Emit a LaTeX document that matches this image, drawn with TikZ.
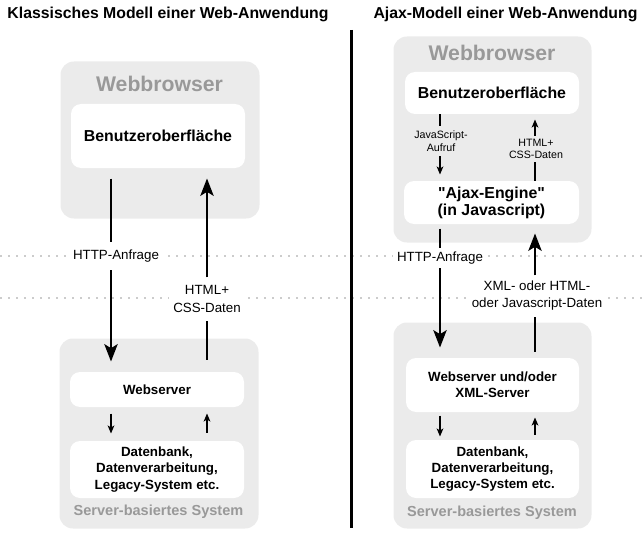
\documentclass[tikz,border=0pt]{standalone}
\usepackage{fontspec}
\setmainfont{Liberation Sans}[Ligatures=TeXOff]
\usetikzlibrary{arrows.meta}

\definecolor{panelgrey}{HTML}{EBEBEB}
\definecolor{captiongrey}{HTML}{999999}
\definecolor{dotgrey}{HTML}{CCCCCC}

\tikzset{every picture/.style={line width=0.75pt}}
\tikzset{
  wh/.style 2 args={minimum width=#1*0.75pt, minimum height=#2*0.75pt},
  panel/.style={fill=panelgrey, rounded corners=10pt, inner sep=0pt, anchor=north west},
  box/.style={fill=white, rounded corners=7.5pt, inner sep=0pt, align=center, font=\bfseries\fontsize{10}{12.3}\selectfont},
  bigbox/.style={box, font=\bfseries\fontsize{11.9}{12.75}\selectfont},
  browsercap/.style={text=captiongrey, inner sep=0.75pt, font=\bfseries\fontsize{15.9}{18}\selectfont},
  servercap/.style={text=captiongrey, inner sep=0.75pt, font=\bfseries\fontsize{10.9}{12}\selectfont},
  headline/.style={anchor=west, inner sep=0.75pt, font=\bfseries\fontsize{11.85}{14}\selectfont},
  flowlabel/.style={fill=white, align=center, inner xsep=3pt, font=\fontsize{10}{12.8}\selectfont},
  smalllabel/.style={align=center, inner xsep=1pt, font=\fontsize{8}{9.5}\selectfont},
  bigline/.style={line width=1.5pt},
  bigarrow/.style={line width=1.5pt, -{Stealth[length=13pt,width=10pt,inset=3pt]}},
  thinline/.style={line width=0.9pt},
  smallarrow/.style={line width=0.9pt, -{Stealth[length=6pt,width=5pt,inset=1.5pt]}},
  dots/.style={dotgrey, line width=1.5pt, dash pattern=on 1.5pt off 4.5pt},
}

\begin{document}
\begin{tikzpicture}[x=0.75pt,y=0.75pt,yscale=-1,xscale=1]
\useasboundingbox (0,0) rectangle (643,542);

%Dotted Lines
\draw [dots] (0,255.5) -- (643,255.5) ;
\draw [dots] (0,298) -- (643,298) ;

% Text Node
\draw (6,14) node (titleL) [headline] {Klassisches Modell einer Web-Anwendung};
% Text Node
\draw (372,14) node (titleR) [headline] {Ajax-Modell einer Web-Anwendung};

%Columns of the connectors
\coordinate (colLa) at (111,0);
\coordinate (colLb) at (207,0);
\coordinate (colRa) at (440,0);
\coordinate (colRb) at (535,0);

%Shape: Rounded Rect [id:browserL]
\draw (60,61) node (browserL) [panel, wh={199}{157}] {};
% Text Node
\draw (159.5,84) node (browserLcap) [browsercap] {Webbrowser};
%Shape: Rounded Rect [id:guiL]
\draw (158,136) node (guiL) [bigbox, wh={174}{64}] {Benutzeroberfläche};

%Shape: Rounded Rect [id:serverL]
\draw (59,338) node (serverL) [panel, wh={199}{190}] {};
%Shape: Rounded Rect [id:webL]
\draw (157,389.5) node (webL) [box, wh={174}{35}] {Webserver};
%Shape: Rounded Rect [id:dbL]
\draw (157,469.5) node (dbL) [box, wh={174}{57}] {Datenbank,\\Datenverarbeitung,\\Legacy-System etc.};
% Text Node
\draw (158.5,512) node (serverLcap) [servercap] {Server-basiertes System};

%Shape: Rounded Rect [id:browserR]
\draw (393,36) node (browserR) [panel, wh={198}{206}] {};
% Text Node
\draw (492,53) node (browserRcap) [browsercap] {Webbrowser};
%Shape: Rounded Rect [id:guiR]
\draw (492,93) node (guiR) [bigbox, wh={174}{42}] {Benutzeroberfläche};
%Shape: Rounded Rect [id:engineR]
\draw (491.5,202.5) node (engineR) [bigbox, wh={175}{43}] {"Ajax-Engine"\\(in Javascript)};

%Shape: Rounded Rect [id:serverR]
\draw (393,322) node (serverR) [panel, wh={198}{206}] {};
%Shape: Rounded Rect [id:webR]
\draw (492.5,385) node (webR) [box, wh={173}{54}] {Webserver und/oder\\XML-Server};
%Shape: Rounded Rect [id:dbR]
\draw (492.5,469) node (dbR) [box, wh={173}{58}] {Datenbank,\\Datenverarbeitung,\\Legacy-System etc.};
% Text Node
\draw (492,513) node (serverRcap) [servercap] {Server-basiertes System};

% Text Node
\draw (116,256) node (httpL) [flowlabel, inner ysep=5.5pt] {HTTP-Anfrage};
% Text Node
\draw (207,299) node (htmlL) [flowlabel, inner ysep=6pt] {HTML+\\CSS-Daten};
% Text Node
\draw (440,258) node (httpR) [flowlabel, inner ysep=2.8pt] {HTTP-Anfrage};
% Text Node
\draw (537,296) node (xmlR) [flowlabel, inner ysep=4pt] {XML- oder HTML-\\oder Javascript-Daten};
% Text Node
\draw (441,141) node (callR) [smalllabel, inner ysep=3.5pt] {JavaScript-\\Aufruf};
% Text Node
\draw (536,149) node (dataR) [smalllabel, inner ysep=2pt] {HTML+\\CSS-Daten};

%Straight Lines [id:requestL]
\draw [bigline, shorten <=7.5pt] (guiL.south -| colLa) -- (httpL.north -| colLa) ;
\draw [bigarrow, shorten >=7.5pt] (httpL.south -| colLa) -- (webL.north -| colLa) ;
%Straight Lines [id:responseL]
\draw [bigline, shorten <=9pt] (webL.north -| colLb) -- (htmlL.south -| colLb) ;
\draw [bigarrow, shorten >=7.5pt] (htmlL.north -| colLb) -- (guiL.south -| colLb) ;
%Straight Lines [id:backendL]
\draw [smallarrow, shorten <=4.5pt, shorten >=5.25pt] (webL.south -| colLa) -- (dbL.north -| colLa) ;
\draw [smallarrow, shorten <=6pt, shorten >=4.5pt] (dbL.north -| colLb) -- (webL.south -| colLb) ;

%Straight Lines [id:callR]
\draw [thinline] (guiR.south -| colRa) -- (callR.north -| colRa) ;
\draw [smallarrow, shorten >=4.5pt] (callR.south -| colRa) -- (engineR.north -| colRa) ;
%Straight Lines [id:updateR]
\draw [thinline] (engineR.north -| colRb) -- (dataR.south -| colRb) ;
\draw [smallarrow, shorten >=3.75pt] (dataR.north -| colRb) -- (guiR.south -| colRb) ;
%Straight Lines [id:requestR]
\draw [bigline, shorten <=3pt] (engineR.south -| colRa) -- (httpR.north -| colRa) ;
\draw [bigarrow, shorten >=7.5pt] (httpR.south -| colRa) -- (webR.north -| colRa) ;
%Straight Lines [id:responseR]
\draw [bigline, shorten <=4.5pt] (webR.north -| colRb) -- (xmlR.south -| colRb) ;
\draw [bigarrow, shorten >=6.75pt] (xmlR.north -| colRb) -- (engineR.south -| colRb) ;
%Straight Lines [id:backendR]
\draw [smallarrow, shorten <=2.25pt, shorten >=2.25pt] (webR.south -| colRa) -- (dbR.north -| colRa) ;
\draw [smallarrow, shorten <=3.75pt, shorten >=3.75pt] (dbR.north -| colRb) -- (webR.south -| colRb) ;

%Straight Lines [id:separator]
\draw [line width=2.25pt] (351.5,30) -- (351.5,528) ;

\end{tikzpicture}
\end{document}
